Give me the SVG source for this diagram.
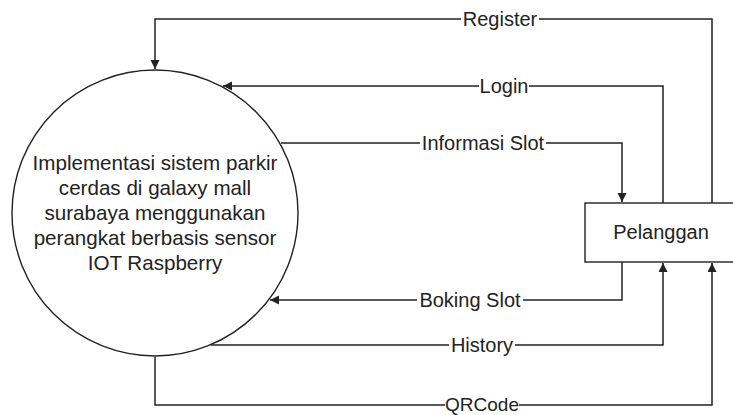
<svg xmlns="http://www.w3.org/2000/svg" width="733" height="415" viewBox="0 0 733 415">
  <style>
    .shape { fill: #ffffff; stroke: #222222; stroke-width: 1.4; }
    .conn { fill: none; stroke: #222222; stroke-width: 1.5; marker-end: url(#arrow); }
    .txt { font-family: "Liberation Sans", Arial, sans-serif; font-size: 20px; fill: #222222; text-anchor: middle; }
    .big { font-size: 20.6px; }
    .lblbg { fill: #ffffff; stroke: none; }
  </style>
  <defs>
    <marker id="arrow" markerUnits="userSpaceOnUse" markerWidth="10" markerHeight="10" refX="9" refY="4.5" orient="auto">
      <path d="M0,0 L9,4.5 L0,9 z" fill="#222222"/>
    </marker>
  </defs>
  <rect x="0" y="0" width="733" height="415" fill="#ffffff"/>

  <g id="connectors">
    <path class="conn" d="M712,203 V19 H155 V69"/>
    <path class="conn" d="M663,203 V86 H223"/>
    <path class="conn" d="M281,143 H622 V202"/>
    <path class="conn" d="M622,262 V300 H270"/>
    <path class="conn" d="M211,345 H663 V263"/>
    <path class="conn" d="M155,357 V405 H712 V263"/>
    <g id="labels">
      <rect class="lblbg" x="461" y="8" width="78" height="22"/>
      <text class="txt" x="500" y="26">Register</text>
      <rect class="lblbg" x="479" y="75" width="50" height="22"/>
      <text class="txt" x="504" y="93">Login</text>
      <rect class="lblbg" x="420" y="132" width="126" height="22"/>
      <text class="txt" x="483" y="150">Informasi Slot</text>
      <rect class="lblbg" x="417" y="289" width="106" height="22"/>
      <text class="txt" x="470" y="307">Boking Slot</text>
      <rect class="lblbg" x="449" y="334" width="66" height="22"/>
      <text class="txt" x="482" y="352">History</text>
      <rect class="lblbg" x="445" y="395" width="74" height="20"/>
      <text class="txt" x="482" y="410.5" style="font-size:19px">QRCode</text>
    </g>
  </g>

  <g id="node-process">
    <circle class="shape" cx="155" cy="213" r="143"/>
    <text class="txt big" x="155" y="170">Implementasi sistem parkir</text>
    <text class="txt big" x="155" y="195">cerdas di galaxy mall</text>
    <text class="txt big" x="155" y="220">surabaya menggunakan</text>
    <text class="txt big" x="155" y="245">perangkat berbasis sensor</text>
    <text class="txt big" x="155" y="270">IOT Raspberry</text>
  </g>

  <g id="node-pelanggan">
    <rect class="shape" x="585" y="203" width="150" height="59"/>
    <text class="txt" x="661" y="239">Pelanggan</text>
  </g>
</svg>
